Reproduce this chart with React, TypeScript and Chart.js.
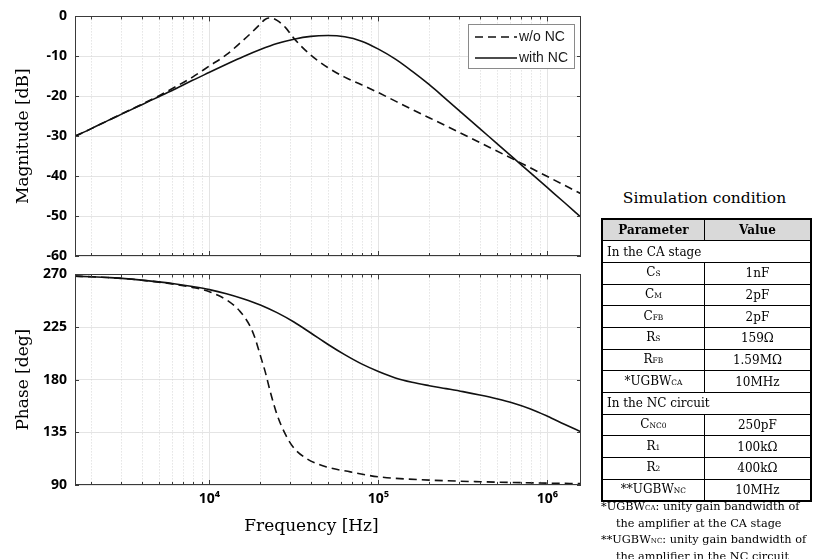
import React, { useEffect, useRef } from "react";
import { Chart, registerables } from "chart.js";

Chart.register(...registerables);

// ---------- data ----------
const seriesLabels = ["w/o NC", "with NC"];

const magFreqWoNC = [1600, 2000, 2500, 3160, 3980, 5010, 6310, 7940, 10000, 12600, 15800, 17800, 20000, 21100, 22400, 23700, 25100, 28200, 31600, 39800, 50100, 63100, 79400, 100000, 158000, 251000, 398000, 631000, 1000000, 1580000];
const magWoNC = [-30, -28.1, -26.1, -24.0, -22.0, -19.9, -17.6, -15.2, -12.4, -9.6, -6.0, -4.0, -1.9, -0.9, -0.4, -0.5, -1.0, -2.8, -5.5, -9.7, -12.8, -15.2, -17.1, -19.1, -23.3, -27.4, -31.6, -35.8, -40.1, -44.4];

const magFreqWithNC = [1600, 2000, 2500, 3160, 3980, 5010, 6310, 7940, 10000, 12600, 15800, 20000, 25100, 31600, 39800, 50100, 63100, 79400, 100000, 126000, 158000, 200000, 251000, 316000, 398000, 501000, 631000, 794000, 1000000, 1260000, 1580000];
const magWithNC = [-30, -28.1, -26.1, -24.1, -22.1, -20.1, -18.1, -16.0, -14.0, -12.0, -10.1, -8.3, -6.8, -5.7, -5.0, -4.8, -5.1, -6.2, -8.2, -10.7, -13.7, -17.1, -20.7, -24.4, -28.1, -31.8, -35.5, -39.2, -42.9, -46.6, -50.3];

const phaseFreqWoNC = [1600, 2000, 2500, 3160, 3980, 5010, 6310, 7940, 8810, 10000, 11200, 12700, 14100, 15200, 16300, 17400, 18500, 19500, 20400, 21400, 22900, 25100, 28100, 31400, 37700, 49500, 68100, 100000, 200000, 400000, 1000000, 1580000];
const phaseWoNC = [268.5, 268.0, 267.3, 266.4, 265.0, 263.4, 261.4, 258.9, 257.6, 255.2, 252.2, 248.0, 243.0, 238.2, 232.5, 225.7, 216.5, 206.0, 196.5, 186.5, 169.7, 150.2, 133.4, 122.1, 112.4, 105.4, 101.2, 97.0, 94.2, 92.8, 91.6, 91.2];

const phaseFreqWithNC = [1600, 2000, 2500, 3160, 3980, 5010, 6310, 7940, 10000, 12600, 15800, 20000, 25100, 31600, 39800, 50100, 63100, 79400, 100000, 126000, 158000, 200000, 251000, 316000, 398000, 501000, 631000, 794000, 1000000, 1260000, 1580000];
const phaseWithNC = [268.5, 268.0, 267.3, 266.4, 265.1, 263.6, 261.8, 259.6, 257.0, 253.5, 249.2, 243.9, 237.3, 229.3, 219.9, 210.3, 201.4, 193.5, 187.0, 181.5, 177.8, 174.9, 172.4, 169.8, 166.9, 163.7, 159.9, 155.0, 148.8, 142.0, 135.5];

const freqMin = 1600;
const freqMax = 1580000;
const decadeTicks = [10000, 100000, 1000000];
const decadeLabels = ["10\u2074", "10\u2075", "10\u2076"];
const minorDecades = [1000, 10000, 100000, 1000000];
const minorMultipliers = [2, 3, 4, 5, 6, 7, 8, 9];
const magTicks = [0, -10, -20, -30, -40, -50, -60];
const phaseTicks = [90, 135, 180, 225, 270];

const tableHeader = ["Parameter", "Value"];
const sectionCA = "In the CA stage";
const rowsCA: [string, string, string][] = [
  ["C", "S", "1nF"],
  ["C", "M", "2pF"],
  ["C", "FB", "2pF"],
  ["R", "S", "159\u03A9"],
  ["R", "FB", "1.59M\u03A9"],
  ["*UGBW", "CA", "10MHz"],
];
const sectionNC = "In the NC circuit";
const rowsNC: [string, string, string][] = [
  ["C", "NC0", "250pF"],
  ["R", "1", "100k\u03A9"],
  ["R", "2", "400k\u03A9"],
  ["**UGBW", "NC", "10MHz"],
];

// ---------- styles ----------
const LINE = "#111";
const GRID = "#e4e4e4";
const MINOR = "#d6d6d6";
const FRAME = "#3a3a3a";
const TICK_FONT = { family: "'Open Sans', sans-serif", weight: "bold" as const, size: 14 };
const SERIF = "'DejaVu Serif', serif";

const minorValues: number[] = [];
minorDecades.forEach((d) =>
  minorMultipliers.forEach((m) => {
    const v = d * m;
    if (v > freqMin && v < freqMax) minorValues.push(v);
  })
);

const framePlugin = {
  id: "frame",
  beforeDatasetsDraw(chart: any) {
    const { ctx, chartArea: a, scales } = chart;
    const xs = scales.x;
    ctx.save();
    ctx.strokeStyle = MINOR;
    ctx.lineWidth = 1;
    ctx.setLineDash([1, 2]);
    minorValues.forEach((v) => {
      const px = Math.round(xs.getPixelForValue(v)) + 0.5;
      ctx.beginPath();
      ctx.moveTo(px, a.top);
      ctx.lineTo(px, a.bottom);
      ctx.stroke();
    });
    ctx.restore();
  },
  afterDatasetsDraw(chart: any) {
    const { ctx, chartArea: a, scales } = chart;
    const xs = scales.x;
    const ys = scales.y;
    ctx.save();
    ctx.strokeStyle = FRAME;
    ctx.lineWidth = 1;
    ctx.setLineDash([]);
    ctx.strokeRect(Math.round(a.left) + 0.5, Math.round(a.top) + 0.5, Math.round(a.right - a.left) - 1, Math.round(a.bottom - a.top) - 1);
    const vt = (v: number, len: number) => {
      const px = Math.round(xs.getPixelForValue(v)) + 0.5;
      ctx.beginPath();
      ctx.moveTo(px, a.bottom);
      ctx.lineTo(px, a.bottom - len);
      ctx.moveTo(px, a.top);
      ctx.lineTo(px, a.top + len);
      ctx.stroke();
    };
    minorValues.forEach((v) => vt(v, 3));
    decadeTicks.forEach((v) => vt(v, 5));
    ys.ticks.forEach((t: any) => {
      const py = Math.round(ys.getPixelForValue(t.value)) + 0.5;
      ctx.beginPath();
      ctx.moveTo(a.left, py);
      ctx.lineTo(a.left + 4, py);
      ctx.moveTo(a.right, py);
      ctx.lineTo(a.right - 4, py);
      ctx.stroke();
    });
    ctx.restore();
  },
};

const legendPlugin = {
  id: "boxLegend",
  afterDraw(chart: any) {
    const { ctx, chartArea: a } = chart;
    const w = 107;
    const h = 45;
    const x = Math.round(a.right - 6 - w);
    const y = Math.round(a.top + 8);
    ctx.save();
    ctx.fillStyle = "#fff";
    ctx.fillRect(x, y, w, h);
    ctx.strokeStyle = "#8a8a8a";
    ctx.lineWidth = 1;
    ctx.setLineDash([]);
    ctx.strokeRect(x + 0.5, y + 0.5, w - 1, h - 1);
    chart.data.datasets.forEach((ds: any, i: number) => {
      const ly = y + 13 + i * 21;
      ctx.strokeStyle = ds.borderColor;
      ctx.lineWidth = ds.borderWidth;
      ctx.setLineDash(ds.borderDash || []);
      ctx.beginPath();
      ctx.moveTo(x + 7, ly);
      ctx.lineTo(x + 49, ly);
      ctx.stroke();
      ctx.setLineDash([]);
      ctx.fillStyle = "#1a1a1a";
      ctx.font = "14px 'Liberation Sans', Arial, sans-serif";
      ctx.textBaseline = "middle";
      ctx.textAlign = "left";
      ctx.fillText(ds.label, x + 51, ly);
    });
    ctx.restore();
  },
};

function makeDatasets(fa: number[], va: number[], fb: number[], vb: number[]) {
  return [
    {
      label: seriesLabels[0],
      data: fa.map((f, i) => ({ x: f, y: va[i] })),
      borderColor: LINE,
      borderWidth: 1.6,
      borderDash: [8, 5],
      pointRadius: 0,
      cubicInterpolationMode: "monotone" as const,
      fill: false,
    },
    {
      label: seriesLabels[1],
      data: fb.map((f, i) => ({ x: f, y: vb[i] })),
      borderColor: LINE,
      borderWidth: 1.6,
      borderDash: [],
      pointRadius: 0,
      cubicInterpolationMode: "monotone" as const,
      fill: false,
    },
  ];
}

function baseOptions(opts: {
  padTop: number;
  xHeight: number;
  showX: boolean;
  yMin: number;
  yMax: number;
  yTicks: number[];
  yTitle: string;
}) {
  return {
    animation: false as const,
    responsive: false,
    devicePixelRatio: 1,
    events: [] as any[],
    layout: { padding: { top: opts.padTop, right: 9, left: 0, bottom: 0 } },
    plugins: { legend: { display: false }, tooltip: { enabled: false } },
    scales: {
      x: {
        type: "logarithmic" as const,
        min: freqMin,
        max: freqMax,
        afterBuildTicks: (s: any) => {
          s.ticks = decadeTicks.map((v) => ({ value: v }));
        },
        afterFit: (s: any) => {
          s.height = opts.xHeight;
        },
        ticks: {
          display: opts.showX,
          autoSkip: false,
          maxRotation: 0,
          padding: 6,
          color: "#000",
          font: TICK_FONT,
          callback: (v: any) => {
            const i = decadeTicks.indexOf(Number(v));
            return i >= 0 ? decadeLabels[i] : "";
          },
        },
        grid: { color: GRID, drawTicks: false },
        border: { display: false },
      },
      y: {
        min: opts.yMin,
        max: opts.yMax,
        afterBuildTicks: (s: any) => {
          s.ticks = opts.yTicks.map((v) => ({ value: v }));
        },
        afterFit: (s: any) => {
          s.width = 75;
        },
        ticks: { padding: 8, color: "#000", font: TICK_FONT },
        grid: { color: GRID, drawTicks: false },
        border: { display: false },
        title: {
          display: true,
          text: opts.yTitle,
          color: "#000",
          font: { family: SERIF, size: 17 },
          padding: { top: 13, bottom: 0 },
        },
      },
    },
  };
}

export default function App() {
  const magRef = useRef<HTMLCanvasElement>(null);
  const phRef = useRef<HTMLCanvasElement>(null);

  useEffect(() => {
    const c1 = new Chart(magRef.current as HTMLCanvasElement, {
      type: "line",
      data: { datasets: makeDatasets(magFreqWoNC, magWoNC, magFreqWithNC, magWithNC) as any },
      options: baseOptions({ padTop: 14, xHeight: 24, showX: false, yMin: -60, yMax: 0, yTicks: magTicks, yTitle: "Magnitude [dB]" }) as any,
      plugins: [framePlugin, legendPlugin],
    });
    const c2 = new Chart(phRef.current as HTMLCanvasElement, {
      type: "line",
      data: { datasets: makeDatasets(phaseFreqWoNC, phaseWoNC, phaseFreqWithNC, phaseWithNC) as any },
      options: baseOptions({ padTop: 12, xHeight: 35, showX: true, yMin: 90, yMax: 270, yTicks: phaseTicks, yTitle: "Phase [deg]" }) as any,
      plugins: [framePlugin],
    });
    return () => {
      c1.destroy();
      c2.destroy();
    };
  }, []);

  const cell: React.CSSProperties = { border: "1px solid #000", padding: 0, textAlign: "center", verticalAlign: "middle" };
  const sub: React.CSSProperties = { fontSize: "0.62em" };
  const rowH = 21.7;

  const renderRows = (rows: [string, string, string][]) =>
    rows.map((r, i) => (
      <tr key={i} style={{ height: rowH }}>
        <td style={cell}>
          {r[0]}
          <span style={sub}>{r[1]}</span>
        </td>
        <td style={cell}>{r[2]}</td>
      </tr>
    ));

  return (
    <div style={{ position: "absolute", left: 0, top: 0, width: 814, height: 559, background: "#fff", overflow: "hidden" }}>
      <canvas ref={phRef} width={590} height={262} style={{ position: "absolute", left: 0, top: 258, width: 590, height: 262 }} />
      <canvas ref={magRef} width={590} height={280} style={{ position: "absolute", left: 0, top: 0, width: 590, height: 280 }} />
      <div style={{ position: "absolute", left: 0, top: 514, width: 623, textAlign: "center", fontFamily: SERIF, fontSize: 17, lineHeight: "22px", color: "#000" }}>
        Frequency [Hz]
      </div>

      <div style={{ position: "absolute", left: 594, top: 186, width: 221, textAlign: "center", fontFamily: SERIF, fontSize: 15.5, lineHeight: "24px", color: "#000" }}>
        Simulation condition
      </div>

      <table
        style={{
          position: "absolute",
          left: 601,
          top: 218,
          width: 211,
          borderCollapse: "collapse",
          border: "2px solid #000",
          fontFamily: SERIF,
          fontSize: 12,
          color: "#000",
          lineHeight: "14px",
        }}
      >
        <colgroup>
          <col style={{ width: 103 }} />
          <col style={{ width: 108 }} />
        </colgroup>
        <tbody>
          <tr style={{ height: rowH, background: "#d9d9d9", fontWeight: "bold" }}>
            <td style={cell}>{tableHeader[0]}</td>
            <td style={cell}>{tableHeader[1]}</td>
          </tr>
          <tr style={{ height: rowH }}>
            <td colSpan={2} style={{ ...cell, textAlign: "left", paddingLeft: 4 }}>
              {sectionCA}
            </td>
          </tr>
          {renderRows(rowsCA)}
          <tr style={{ height: rowH }}>
            <td colSpan={2} style={{ ...cell, textAlign: "left", paddingLeft: 4 }}>
              {sectionNC}
            </td>
          </tr>
          {renderRows(rowsNC)}
        </tbody>
      </table>

      <div style={{ position: "absolute", left: 601, top: 499, width: 213, fontFamily: SERIF, fontSize: 11.3, lineHeight: "16px", color: "#000", whiteSpace: "nowrap" }}>
        <div>
          *UGBW<span style={sub}>CA</span>: unity gain bandwidth of
        </div>
        <div style={{ paddingLeft: 15 }}>the amplifier at the CA stage</div>
        <div>
          **UGBW<span style={sub}>NC</span>: unity gain bandwidth of
        </div>
        <div style={{ paddingLeft: 15 }}>the amplifier in the NC circuit</div>
      </div>
    </div>
  );
}
